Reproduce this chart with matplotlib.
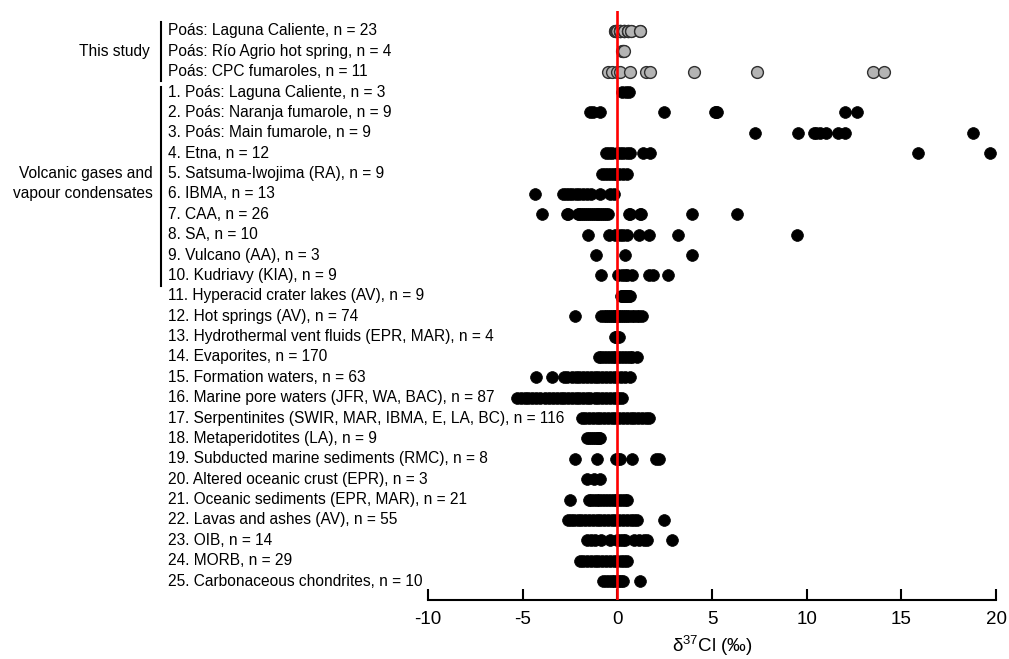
import matplotlib
matplotlib.use("Agg")
from matplotlib import pyplot as plt
from matplotlib.transforms import blended_transform_factory

plt.rcParams['font.family'] = ['Liberation Sans', 'DejaVu Sans']
plt.rcParams['axes.unicode_minus'] = False
plt.rcParams['mathtext.fontset'] = 'custom'
plt.rcParams['mathtext.rm'] = 'Liberation Sans'
plt.rcParams['mathtext.default'] = 'regular'

labels = [
    "Poás: Laguna Caliente, n = 23",
    "Poás: Río Agrio hot spring, n = 4",
    "Poás: CPC fumaroles, n = 11",
    "1. Poás: Laguna Caliente, n = 3",
    "2. Poás: Naranja fumarole, n = 9",
    "3. Poás: Main fumarole, n = 9",
    "4. Etna, n = 12",
    "5. Satsuma-Iwojima (RA), n = 9",
    "6. IBMA, n = 13",
    "7. CAA, n = 26",
    "8. SA, n = 10",
    "9. Vulcano (AA), n = 3",
    "10. Kudriavy (KIA), n = 9",
    "11. Hyperacid crater lakes (AV), n = 9",
    "12. Hot springs (AV), n = 74",
    "13. Hydrothermal vent fluids (EPR, MAR), n = 4",
    "14. Evaporites, n = 170",
    "15. Formation waters, n = 63",
    "16. Marine pore waters (JFR, WA, BAC), n = 87",
    "17. Serpentinites (SWIR, MAR, IBMA, E, LA, BC), n = 116",
    "18. Metaperidotites (LA), n = 9",
    "19. Subducted marine sediments (RMC), n = 8",
    "20. Altered oceanic crust (EPR), n = 3",
    "21. Oceanic sediments (EPR, MAR), n = 21",
    "22. Lavas and ashes (AV), n = 55",
    "23. OIB, n = 14",
    "24. MORB, n = 29",
    "25. Carbonaceous chondrites, n = 10",
]

# this study (grey symbols)
laguna_caliente = [-0.12, -0.1, -0.08, -0.06, -0.04, 0.12, 0.12, 0.12, 0.12, 0.12,
                   0.35, 0.35, 0.35, 0.35, 0.35, 0.58, 0.58, 0.58, 0.58, 0.74, 0.74,
                   1.19, 1.19]
rio_agrio = [0.23, 0.28, 0.32, 0.35]
cpc_fumaroles = [-0.47, -0.26, 0.0, 0.12, 0.65, 1.49, 1.75, 4.06, 7.37, 13.5, 14.1]

# literature data (black symbols)
lit_values = [
    [0.23, 0.45, 0.6],
    [-1.45, -1.3, -0.9, 2.49, 5.17, 5.23, 5.29, 12.03, 12.66],
    [7.27, 9.54, 10.39, 10.5, 10.68, 11.03, 11.65, 12.0, 18.77],
    [-0.6, -0.45, -0.3, 0.0, 0.15, 0.3, 0.5, 0.65, 1.35, 1.7, 15.9, 19.7],
    [-0.8, -0.65, -0.5, -0.35, -0.2, -0.05, 0.1, 0.3, 0.5],
    [-4.35, -2.85, -2.7, -2.55, -2.4, -2.2, -2.0, -1.8, -1.6, -1.4, -0.9, -0.4, -0.15],
    [-4.0, -2.65, -2.6, -2.1, -2.0, -1.9, -1.8, -1.7, -1.6, -1.5, -1.4, -1.3, -1.2,
     -1.1, -1.0, -0.9, -0.8, -0.7, -0.6, -0.5, 0.6, 0.65, 1.2, 1.25, 3.96, 6.3],
    [-1.54, -0.46, -0.1, 0.16, 0.3, 0.51, 1.12, 1.68, 3.23, 9.5],
    [-1.14, 0.39, 3.93],
    [-0.84, 0.04, 0.25, 0.4, 0.51, 0.77, 1.65, 1.91, 2.7],
    [0.2, 0.25, 0.3, 0.35, 0.4, 0.45, 0.5, 0.6, 0.65],
    [-2.21, -0.84, -0.7, -0.6, -0.5, -0.4, -0.3, -0.2, -0.1, 0.0, 0.1, 0.2, 0.3, 0.4,
     0.5, 0.6, 0.75, 0.9, 1.05, 1.15, 1.3],
    [-0.1, -0.05, 0.0, 0.07],
    [-0.98, -0.85, -0.7, -0.55, -0.4, -0.25, -0.1, 0.05, 0.2, 0.35, 0.5, 0.65, 0.8, 1.04],
    [-4.32, -3.47, -2.82, -2.65, -2.4, -2.2, -2.0, -1.8, -1.6, -1.4, -1.2, -1.0, -0.8,
     -0.6, -0.4, -0.2, 0.0, 0.2, 0.4, 0.68],
    [-5.28, -5.1, -4.9, -4.7, -4.5, -4.3, -4.1, -3.8, -3.6, -3.4, -3.2, -3.0, -2.8, -2.6,
     -2.4, -2.2, -2.0, -1.8, -1.6, -1.45, -1.2, -1.0, -0.8, -0.6, -0.4, -0.2, 0.0, 0.1, 0.25],
    [-1.86, -1.7, -1.5, -1.3, -1.1, -0.9, -0.7, -0.5, -0.3, -0.1, 0.1, 0.3, 0.5, 0.7,
     0.9, 1.1, 1.3, 1.5, 1.65],
    [-1.6, -1.5, -1.4, -1.3, -1.2, -1.1, -1.0, -0.95, -0.9],
    [-2.26, -1.07, -0.05, 0.05, 0.15, 0.77, 2.04, 2.2],
    [-1.6, -1.25, -0.9],
    [-2.51, -1.5, -1.4, -1.25, -1.1, -0.95, -0.8, -0.65, -0.5, -0.35, -0.2, -0.05, 0.1,
     0.25, 0.4, 0.51],
    [-2.61, -2.45, -2.3, -2.1, -1.9, -1.7, -1.5, -1.3, -1.1, -0.9, -0.7, -0.5, -0.3,
     -0.1, 0.1, 0.3, 0.5, 0.7, 0.9, 1.04, 2.44],
    [-1.6, -1.4, -1.16, -0.84, -0.4, 0.0, 0.16, 0.3, 0.42, 0.86, 1.12, 1.4, 1.56, 2.91],
    [-1.98, -1.8, -1.6, -1.4, -1.2, -1.0, -0.8, -0.6, -0.4, -0.2, 0.0, 0.2, 0.35, 0.51],
    [-0.75, -0.6, -0.45, -0.3, -0.15, 0.0, 0.1, 0.2, 0.28, 1.21],
]

x_ticks = [-10, -5, 0, 5, 10, 15, 20]

W, H = 1009, 659
fig = plt.figure(figsize=(W / 100, H / 100), dpi=100)
ax = fig.add_axes([428 / W, 1 - 600 / H, (996 - 428) / W, (600 - 11) / H])

grey_rows = [laguna_caliente, rio_agrio, cpc_fumaroles]
for i, vals in enumerate(grey_rows):
    ax.plot(vals, [i] * len(vals), 'o', ms=8.5, mfc='#b4b4b4', mec='#303030',
            mew=1.0, clip_on=False, zorder=3)

for j, vals in enumerate(lit_values):
    row = j + 3
    ax.plot(vals, [row] * len(vals), 'o', ms=8.5, mfc='black', mec='black',
            mew=0.5, clip_on=False, zorder=3)

ax.axvline(0, color='#ff0000', lw=1.9, zorder=4)

ax.set_xlim(-10, 20)
ax.set_ylim(27.93, -0.98)
ax.set_yticks([])
for s in ['top', 'right', 'left']:
    ax.spines[s].set_visible(False)
ax.spines['bottom'].set_linewidth(1.5)
ax.set_xticks(x_ticks)
ax.set_xticklabels([str(t) for t in x_ticks], fontsize=13.5)
ax.tick_params(axis='x', direction='in', length=8, width=1.5, pad=8)
ax.set_xlabel('δ$^{37}$Cl (‰)', fontsize=13.5, labelpad=4)

trans = blended_transform_factory(fig.transFigure, ax.transData)
for i, lab in enumerate(labels):
    ax.text(168 / W, i, lab, transform=trans, fontsize=11.2, ha='left', va='center')

ax.text(150 / W, 1, "This study", transform=trans, fontsize=11.2, ha='right', va='center')
ax.text(153 / W, 7, "Volcanic gases and", transform=trans, fontsize=11.2, ha='right', va='center')
ax.text(153 / W, 8, "vapour condensates", transform=trans, fontsize=11.2, ha='right', va='center')

ax.plot([161 / W, 161 / W], [-0.45, 2.45], color='black', lw=1.5, transform=trans, clip_on=False)
ax.plot([161 / W, 161 / W], [2.75, 12.5], color='black', lw=1.5, transform=trans, clip_on=False)

fig.savefig("out.png", dpi=100)
